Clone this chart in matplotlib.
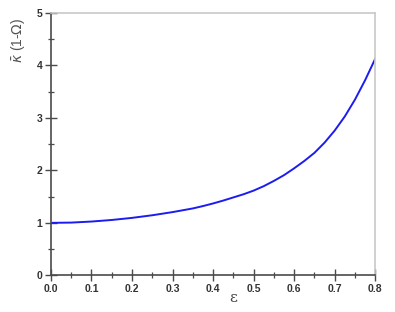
import matplotlib
matplotlib.use("Agg")
import matplotlib.pyplot as plt
from matplotlib.ticker import MultipleLocator

# values
eps = [0.0, 0.05, 0.1, 0.15, 0.2, 0.25, 0.3, 0.35, 0.375, 0.4, 0.425, 0.45,
       0.475, 0.5, 0.525, 0.55, 0.575, 0.6, 0.625, 0.65, 0.675, 0.7,
       0.725, 0.75, 0.775, 0.8]
kappa = [1.0, 1.005, 1.025, 1.055, 1.095, 1.145, 1.205, 1.275, 1.32, 1.37, 1.425, 1.485,
         1.545, 1.615, 1.70, 1.80, 1.91, 2.04, 2.18, 2.335, 2.53, 2.76,
         3.03, 3.35, 3.72, 4.13]

xticks = [0.0, 0.1, 0.2, 0.3, 0.4, 0.5, 0.6, 0.7, 0.8]
yticks = [0, 1, 2, 3, 4, 5]

plt.rcParams['font.family'] = ['Liberation Sans', 'DejaVu Sans']

fig = plt.figure(figsize=(3.95, 3.12), dpi=100)
ax = fig.add_axes([0.129, 0.1176, 0.821, 0.8406])

ax.plot(eps, kappa, color="#1c1cf0", lw=1.4, solid_joinstyle="round")

ax.set_xlim(0, 0.8)
ax.set_ylim(0, 5)
ax.set_xticks(xticks)
ax.set_xticklabels(["%.1f" % t for t in xticks])
ax.set_yticks(yticks)
ax.xaxis.set_minor_locator(MultipleLocator(0.05))
ax.yaxis.set_minor_locator(MultipleLocator(0.5))

axis_col = "#4a4a4a"
for side in ["left", "bottom"]:
    ax.spines[side].set_color(axis_col)
    ax.spines[side].set_linewidth(1.2)
for side in ["top", "right"]:
    ax.spines[side].set_color("#c8c8c8")
    ax.spines[side].set_linewidth(1.2)

ax.tick_params(which="major", direction="inout", length=8, width=1.0, color=axis_col,
               labelsize=7.5, pad=2)
ax.tick_params(which="minor", direction="inout", length=5, width=0.9, color=axis_col)
for lab in ax.get_xticklabels() + ax.get_yticklabels():
    lab.set_fontweight("bold")
    lab.set_color("#333333")

fig.text(233 / 395, 1 - 298 / 312, "ε", ha="center", va="center", fontsize=11,
         color="#444444", family="DejaVu Serif")
fig.text(18 / 395, 1 - 40 / 312, r"$\bar{\kappa}$ (1-$\mathit{\Omega}$)", rotation=90,
         ha="center", va="center", fontsize=10, color="#555555")

fig.savefig("out.png", dpi=100)
